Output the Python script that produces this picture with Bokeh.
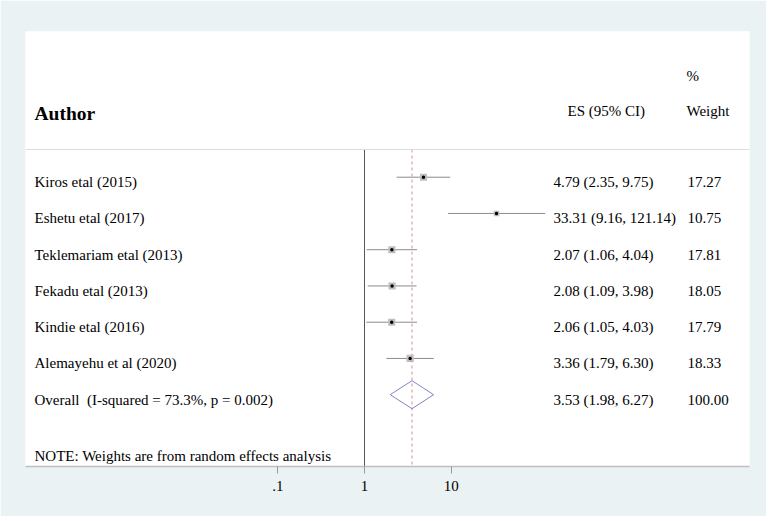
import numpy as np
from bokeh.plotting import figure
from bokeh.models import Range1d, FixedTicker, CustomJSTickFormatter, Span, ColumnDataSource, LinearScale
from bokeh.core.properties import value
from bokeh.embed import file_html
from bokeh.resources import INLINE

# ---------------- data ----------------
authors = ["Kiros etal (2015)", "Eshetu etal (2017)", "Teklemariam etal (2013)",
           "Fekadu etal (2013)", "Kindie etal (2016)", "Alemayehu et al (2020)"]
es = [4.79, 33.31, 2.07, 2.08, 2.06, 3.36]
lcl = [2.35, 9.16, 1.06, 1.09, 1.05, 1.79]
ucl = [9.75, 121.14, 4.04, 3.98, 4.03, 6.30]
weights = [17.27, 10.75, 17.81, 18.05, 17.79, 18.33]
overall_es = 3.53
overall_lcl = 1.98
overall_ucl = 6.27
overall_weight = 100.00
i_squared = 73.3
p_het = 0.002
tick_values = [0.1, 1, 10]
tick_labels = [".1", "1", "10"]

# ---------------- layout helpers ----------------
FONT = value("Liberation Serif")
ORG = 0              # page position of the figure's top-left corner
ROW0_PX = 176.7      # page y of row 1
ROW_STEP = 36.25     # px per row
X1_PX = 364.0        # page x of effect size 1
DEC_PX = 86.7        # px per decade
FR_L, FR_R, FR_T, FR_B = 25, 749, 31, 466   # white frame, page coords

def row_at(ypx):
    return 1 + (ypx - ROW0_PX) / ROW_STEP

W, H = 766, 516
p = figure(width=W, height=H, output_backend="svg", toolbar_location=None,
           x_axis_type="log", y_axis_location=None,
           x_range=Range1d(10 ** ((FR_L - X1_PX) / DEC_PX), 10 ** ((FR_R - X1_PX) / DEC_PX)),
           y_range=Range1d(row_at(FR_B), row_at(FR_T)),
           min_border_left=FR_L - ORG, min_border_right=W - (FR_R - ORG),
           min_border_top=FR_T - ORG, min_border_bottom=H - (FR_B - ORG))
p.extra_x_ranges = {"px": Range1d(FR_L, FR_R)}
p.extra_x_scales = {"px": LinearScale()}
p.extra_y_ranges = {"py": Range1d(FR_B, FR_T)}
p.extra_y_scales = {"py": LinearScale()}

p.border_fill_color = "#EAF2F3"
p.background_fill_color = "white"
p.outline_line_color = None
p.grid.visible = False

ax = p.xaxis[0]
ax.ticker = FixedTicker(ticks=tick_values)
ax.formatter = CustomJSTickFormatter(args=dict(t=tick_values, l=tick_labels), code="""
  for (let i = 0; i < t.length; i++) { if (Math.abs(tick - t[i]) < 1e-9 * t[i]) return l[i]; }
  return '';
""")
ax.axis_line_color = "#BFBFBF"
ax.axis_line_width = 1.5
ax.major_tick_line_color = "#9A9A9A"
ax.major_tick_out = 7
ax.major_tick_in = 0
ax.minor_tick_line_color = None
ax.major_label_text_font = "Liberation Serif"
ax.major_label_text_font_size = "15px"
ax.major_label_text_color = "black"
ax.major_label_standoff = 7

rows = list(range(1, len(authors) + 1))
orow = len(authors) + 1
line_top = row_at(149)

# header separator
p.add_layout(Span(location=line_top, dimension="width", line_color="#DCDCDC", line_width=1))

# null line at 1 and overall dashed line
p.segment(x0=[1], y0=[line_top], x1=[1], y1=[row_at(FR_B)], line_color="#555555", line_width=1)
p.segment(x0=[overall_es], y0=[line_top], x1=[overall_es], y1=[row_at(FR_B)],
          line_color="#E08A8A", line_width=1, line_dash="3 3")

# CIs
src = ColumnDataSource(dict(y=rows, es=es, lcl=lcl, ucl=ucl,
                            size=[1.68 * np.sqrt(w) for w in weights]))
p.segment(x0="lcl", y0="y", x1="ucl", y1="y", source=src, line_color="#8C8C8C", line_width=1)
p.scatter(x="es", y="y", size="size", marker="square", source=src,
          fill_color="#BEBEBE", line_color=None)
p.scatter(x="es", y="y", size=3.5, marker="circle", source=src,
          fill_color="black", line_color=None)

# overall diamond
hh = 14 / ROW_STEP
p.patch(x=[overall_lcl, overall_es, overall_ucl, overall_es, overall_lcl],
        y=[orow, orow - hh, orow, orow + hh, orow],
        fill_color=None, line_color="#8383CC", line_width=1)

# row texts
labels = authors + [f"Overall\u00a0 (I-squared = {i_squared:.1f}%, p = {p_het:.3f})"]
es_txt = [f"{e:.2f} ({a:.2f}, {b:.2f})" for e, a, b in zip(es, lcl, ucl)] + \
         [f"{overall_es:.2f} ({overall_lcl:.2f}, {overall_ucl:.2f})"]
w_txt = [f"{w:.2f}" for w in weights] + [f"{overall_weight:.2f}"]
ally = rows + [orow]
common = dict(text_font=FONT, text_font_size="15px", text_color="black",
              text_baseline="middle", y_offset=5, x_range_name="px")
p.text(x=[34] * len(ally), y=ally, text=labels, **common)
p.text(x=[553] * len(ally), y=ally, text=es_txt, **common)
p.text(x=[687] * len(ally), y=ally, text=w_txt, **common)

# headers & note (page pixel coordinates)
hdr = dict(text_font=FONT, text_color="black", text_baseline="middle",
           x_range_name="px", y_range_name="py")
p.text(x=[34], y=[113], text=["Author"], text_font_size="19.5px", text_font_style="bold", **hdr)
p.text(x=[567], y=[110], text=["ES (95% CI)"], text_font_size="15px", **hdr)
p.text(x=[686], y=[75], text=["%"], text_font_size="15px", **hdr)
p.text(x=[686], y=[110], text=["Weight"], text_font_size="15px", **hdr)
p.text(x=[34], y=[455], text=["NOTE: Weights are from random effects analysis"],
       text_font_size="15px", **hdr)

open("out.html", "w").write(file_html(p, INLINE))
